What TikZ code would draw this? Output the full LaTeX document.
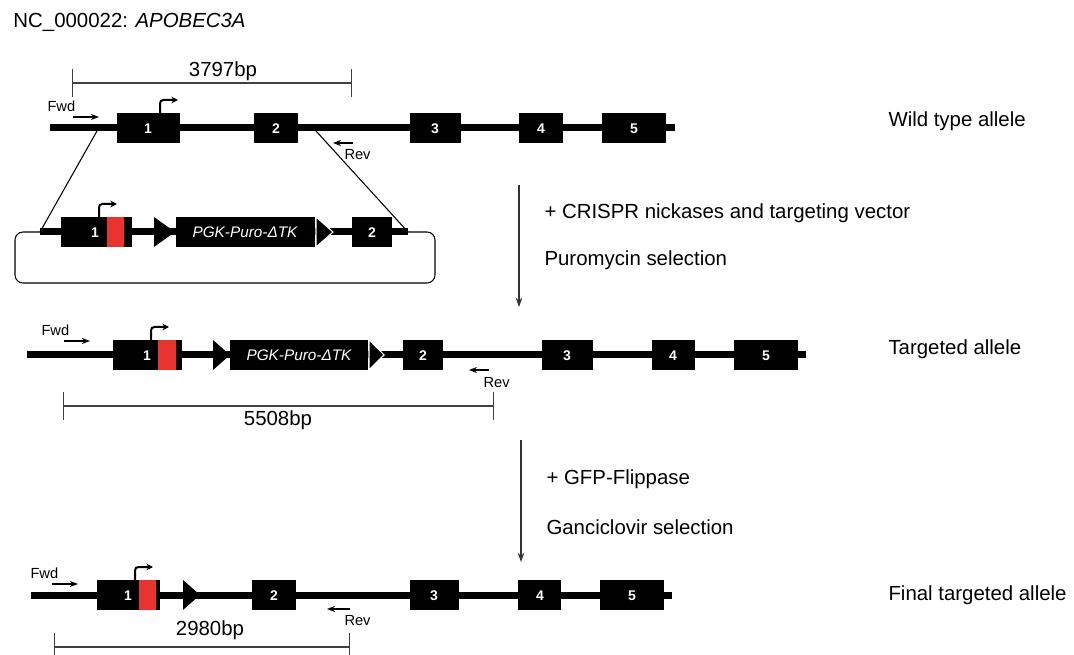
\documentclass[tikz,border=0pt]{standalone}
\usepackage{fontspec}
\setmainfont{Liberation Sans}
\setsansfont{Liberation Sans}
\usetikzlibrary{arrows.meta}
\definecolor{exred}{RGB}{232,52,46}

\tikzset{every picture/.style={line width=0.75pt}}
\tikzset{
  backbone/.style={line width=5.25pt},
  exon/.style={fill=black},
  frt/.style={fill=black},
  exnum/.style={text=white, font=\bfseries\fontsize{10.5}{12}\selectfont, inner sep=0.75pt},
  cassette/.style={text=white, font=\itshape\fontsize{11.5}{13}\selectfont, inner sep=0.75pt},
  lbl/.style={font=\fontsize{15.3}{18}\selectfont, inner sep=0.75pt},
  primerlbl/.style={font=\fontsize{11}{13}\selectfont, inner sep=0.75pt},
  primer/.style={line width=1.1pt, -{Stealth[length=6pt,width=4.5pt]}},
  promoter/.style={line width=1.5pt, rounded corners=2.5pt, -{Stealth[length=5pt,width=5pt]}},
  sizebar/.style={line width=0.8pt, draw=black!75, {Bar[width=21pt]}-{Bar[width=21pt]}},
  procarrow/.style={line width=0.9pt, draw=black!80, -{Stealth[length=7pt,width=5pt]}}
}

\begin{document}
\begin{tikzpicture}[x=0.75pt,y=0.75pt,yscale=-1,xscale=1]
	\useasboundingbox (0,0) rectangle (1074,655);
	% Text Node
	\node[lbl, anchor=west] (title) at (12,22) {NC\_000022: \textit{APOBEC3A}};

	%%% Wild type allele
	%Shape: Size bar
	\draw[sizebar] (72,83) -- (352,83);
	\node[lbl] (wtsize) at (223,71) {3797bp};
	%Straight Lines
	\draw[backbone] (50,128) -- (675,128);
	%Shape: Exons
	\fill[exon] (117,113) rectangle (180,143);
	\fill[exon] (254,113) rectangle (298,143);
	\fill[exon] (410,113) rectangle (461,143);
	\fill[exon] (519,113) rectangle (563,143);
	\fill[exon] (602,113) rectangle (666,143);
	\node[exnum] (wt1) at (148,129) {1};
	\node[exnum] (wt2) at (276,129) {2};
	\node[exnum] (wt3) at (435,129) {3};
	\node[exnum] (wt4) at (541,129) {4};
	\node[exnum] (wt5) at (634,129) {5};
	%Promoter
	\draw[promoter] (160,113) -- (160,100) -- (178,100);
	%Primers
	\node[primerlbl, anchor=west] (wtfwd) at (46,106) {Fwd};
	\draw[primer] (73,117) -- (99,117);
	\draw[primer] (353,143) -- (333,143);
	\node[primerlbl, anchor=west] (wtrev) at (343,155) {Rev};
	% Text Node
	\node[lbl, anchor=west] (wtlabel) at (887,121) {Wild type allele};

	%%% Targeting vector
	\coordinate (hl) at (97,131);
	\coordinate (hr) at (316,131);
	\coordinate (vl) at (40,232);
	\coordinate (vr) at (408,232);
	\draw[line width=0.8pt] (hl) -- (vl);
	\draw[line width=0.8pt] (hr) -- (vr);
	\draw[line width=0.8pt, rounded corners=6pt] (15,232) rectangle (435,283);
	\draw[backbone] (vl) -- (vr);
	\fill[exon] (61,217) rectangle (132,247);
	\fill[exred] (107,217) rectangle (124,247);
	\node[exnum] (tv1) at (95,233) {1};
	\draw[promoter] (99,217) -- (99,204) -- (117,204);
	\fill[frt] (154,217) -- (175,232) -- (154,247) -- cycle;
	\fill[exon] (176,217) rectangle (315,247);
	\node[cassette] (tvpgk) at (245,232) {PGK-Puro-ΔTK};
	\filldraw[frt, draw=white, line width=0.8pt] (316,217) -- (333,232) -- (316,247) -- cycle;
	\fill[exon] (352,217) rectangle (392,247);
	\node[exnum] (tv2) at (372,233) {2};

	%%% Step 1
	\coordinate (s1a) at (519,185);
	\coordinate (s1b) at (519,307);
	\draw[procarrow] (s1a) -- (s1b);
	\node[lbl, anchor=west] (crispr) at (543,213) {+ CRISPR nickases and targeting vector};
	\node[lbl, anchor=west] (puro) at (543,260) {Puromycin selection};

	%%% Targeted allele
	\draw[backbone] (27,355) -- (806,355);
	\fill[exon] (113,340) rectangle (182,370);
	\fill[exred] (158,340) rectangle (176,370);
	\node[exnum] (ta1) at (147,356) {1};
	\draw[promoter] (151,340) -- (151,327) -- (169,327);
	\fill[frt] (213,340) -- (230,355) -- (213,370) -- cycle;
	\fill[exon] (230,340) rectangle (368,370);
	\node[cassette] (tapgk) at (299,355) {PGK-Puro-ΔTK};
	\filldraw[frt, draw=white, line width=0.8pt] (369,340) -- (384,355) -- (369,370) -- cycle;
	\fill[exon] (403,340) rectangle (443,370);
	\fill[exon] (542,340) rectangle (593,370);
	\fill[exon] (652,340) rectangle (695,370);
	\fill[exon] (734,340) rectangle (798,370);
	\node[exnum] (ta2) at (423,356) {2};
	\node[exnum] (ta3) at (567,356) {3};
	\node[exnum] (ta4) at (673,356) {4};
	\node[exnum] (ta5) at (766,356) {5};
	\node[primerlbl, anchor=west] (tafwd) at (40,330) {Fwd};
	\draw[primer] (64,341) -- (90,341);
	\draw[primer] (489,370) -- (469,370);
	\node[primerlbl, anchor=west] (tarev) at (482,383) {Rev};
	\draw[sizebar] (63,406) -- (494,406);
	\node[lbl] (tasize) at (278,420) {5508bp};
	\node[lbl, anchor=west] (talabel) at (887,349) {Targeted allele};

	%%% Step 2
	\coordinate (s2a) at (521,440);
	\coordinate (s2b) at (521,562);
	\draw[procarrow] (s2a) -- (s2b);
	\node[lbl, anchor=west] (gfp) at (545,479) {+ GFP-Flippase};
	\node[lbl, anchor=west] (ganc) at (545,527) {Ganciclovir selection};

	%%% Final targeted allele
	\draw[backbone] (31,595) -- (672,595);
	\fill[exon] (97,580) rectangle (160,610);
	\fill[exred] (139,580) rectangle (156,610);
	\node[exnum] (fa1) at (128,596) {1};
	\draw[promoter] (135,580) -- (135,567) -- (153,567);
	\fill[frt] (183,580) -- (200,595) -- (183,610) -- cycle;
	\fill[exon] (252,580) rectangle (296,610);
	\fill[exon] (410,580) rectangle (459,610);
	\fill[exon] (518,580) rectangle (561,610);
	\fill[exon] (600,580) rectangle (664,610);
	\node[exnum] (fa2) at (274,596) {2};
	\node[exnum] (fa3) at (434,596) {3};
	\node[exnum] (fa4) at (540,596) {4};
	\node[exnum] (fa5) at (632,596) {5};
	\node[primerlbl, anchor=west] (fafwd) at (29,573) {Fwd};
	\draw[primer] (52,584) -- (78,584);
	\draw[primer] (350,609) -- (327,609);
	\node[primerlbl, anchor=west] (farev) at (343,621) {Rev};
	\draw[sizebar] (54,647) -- (350,647);
	\node[lbl] (fasize) at (210,630) {2980bp};
	\node[lbl, anchor=west] (falabel) at (887,595) {Final targeted allele};
\end{tikzpicture}
\end{document}
